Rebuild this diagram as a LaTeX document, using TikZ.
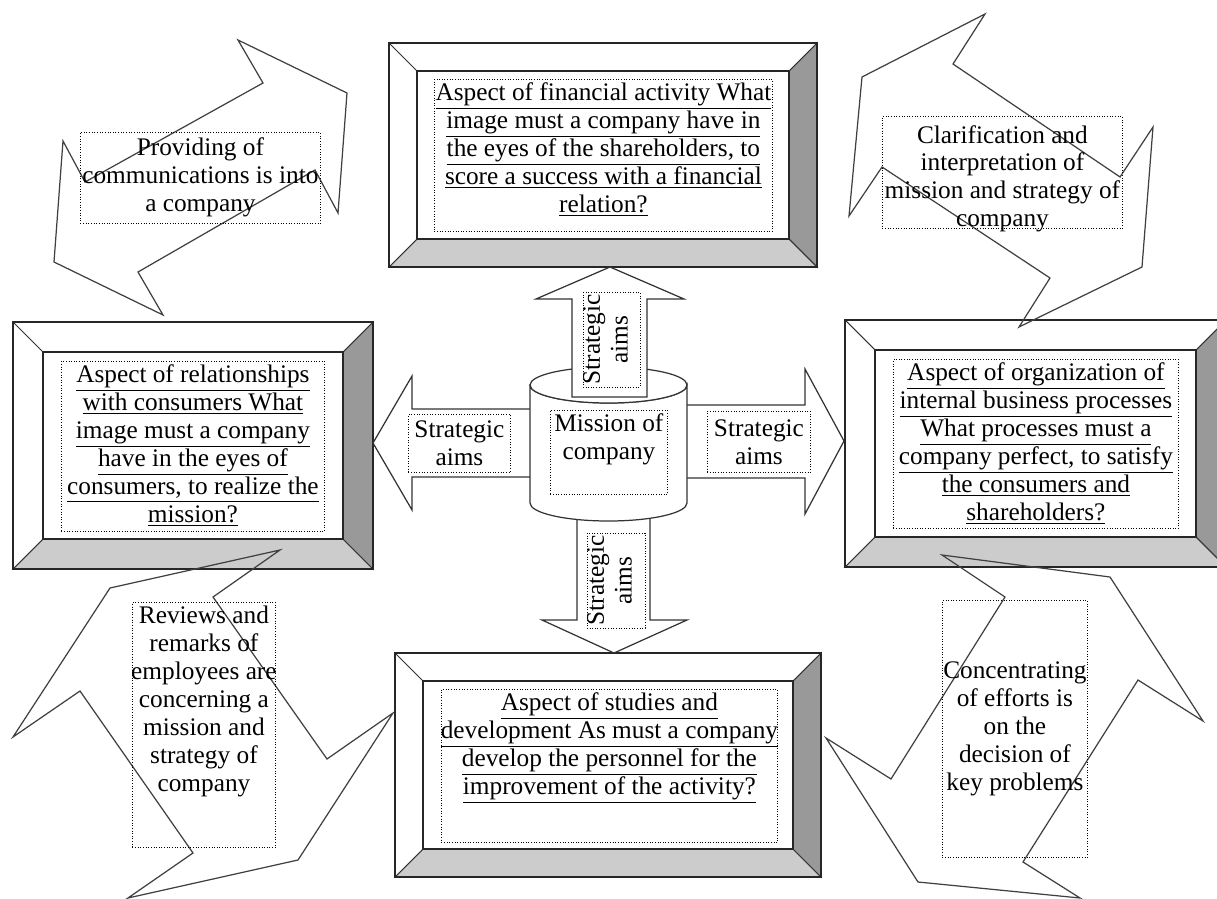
\documentclass[tikz,border=0pt]{standalone}
\usepackage{fontspec}
\setmainfont{Liberation Serif}
\usepackage{xcolor}
\usepackage{tikz}
\usetikzlibrary{positioning}

\newcommand{\ulline}[1]{\makebox[\linewidth]{\underline{#1}}}
\newcommand{\plline}[1]{\makebox[\linewidth]{#1}}
\newcommand{\boxtext}[4]{\parbox[c][#2][#3]{#1}{#4}}
\newcommand{\bevelframe}[5]{%
  \filldraw[frameline, fill=white] (#1,#2) rectangle (#3,#4);
  \filldraw[thinline, fill=black!20] (#1,#4) -- (#3,#4) -- (#3-#5,#4-#5) -- (#1+#5,#4-#5) -- cycle;
  \filldraw[thinline, fill=black!40] (#3,#2) -- (#3,#4) -- (#3-#5,#4-#5) -- (#3-#5,#2+#5) -- cycle;
  \draw[thinline] (#1,#2) -- (#1+#5,#2+#5);
  \draw[frameline] (#1+#5,#2+#5) rectangle (#3-#5,#4-#5);
  \draw[frameline] (#1,#2) rectangle (#3,#4);}

\begin{document}
\begin{tikzpicture}[x=0.02cm, y=-0.02cm,
    frameline/.style={draw=black!85, line width=1pt},
    thinline/.style={draw=black!80, line width=0.6pt},
    blockarrow/.style={draw=black!80, fill=white, line width=0.7pt},
    zigzag/.style={draw=black!75, line width=0.7pt},
    tbox/.style={draw, densely dotted, line width=0.5pt, inner sep=0pt, font=\fontsize{14.4}{15.9}\selectfont}
]
\useasboundingbox (0,0) rectangle (1217,899);

\bevelframe{389}{43}{817}{267}{28}
\bevelframe{13}{322}{373}{569}{30}
\bevelframe{845}{320}{1226}{567}{30}
\bevelframe{395}{653}{821}{877}{28}

\filldraw[blockarrow] (540,409) -- (412,409) -- (412,376) -- (373,443) -- (412,510) -- (412,477) -- (540,477) -- cycle;
\filldraw[blockarrow] (680,405) -- (805,405) -- (805,369) -- (844,441) -- (805,514) -- (805,478) -- (680,478) -- cycle;
\filldraw[blockarrow] (577,505) -- (577,620) -- (542,620) -- (614,653) -- (687,620) -- (650,620) -- (650,505) -- cycle;
\filldraw[blockarrow] (530,385) -- (530,503) arc[start angle=180, end angle=0, x radius=78.5, y radius=18] -- (687,385) arc[start angle=0, end angle=180, x radius=78.5, y radius=18] -- cycle;
\draw[blockarrow] (608.5,385) ellipse [x radius=78.5, y radius=18];
\filldraw[blockarrow] (572,397) -- (572,299) -- (536,299) -- (610,267) -- (684,299) -- (647,299) -- (647,397) -- cycle;

\draw[zigzag] (238,40) -- (347,93) -- (338,213) -- (315,170) -- (138,272) -- (163,315) -- (54,262) -- (63,141) -- (85,182) -- (263,83) -- cycle;
\draw[zigzag] (862,77) -- (985,14) -- (953,64) -- (1120,177) -- (1153,127) -- (1142,267) -- (1019,327) -- (1050,278) -- (882,167) -- (849,216) -- cycle;
\draw[zigzag] (280,550) -- (110,588) -- (13,737) -- (80,691) -- (193,853) -- (128,898) -- (298,860) -- (393,713) -- (327,759) -- (213,597) -- cycle;
\draw[zigzag] (942,555) -- (1110,577) -- (1203,721) -- (1138,680) -- (1023,862) -- (1080,898) -- (918,882) -- (826,738) -- (891,779) -- (1005,597) -- cycle;

\node[tbox, anchor=north west] (fin) at (434,79) {\boxtext{6.76cm}{3.04cm}{t}{\vspace{2pt}%
  \ulline{Aspect of financial activity What}\\
  \ulline{image must a company have in}\\
  \ulline{the eyes of the shareholders, to}\\
  \ulline{score a success with a financial}\\
  \ulline{relation?}}};
\node[tbox, anchor=north west] (cons) at (61,361) {\boxtext{5.26cm}{3.40cm}{t}{\vspace{2pt}%
  \ulline{Aspect of relationships}\\
  \ulline{with consumers What}\\
  \ulline{image must a company}\\
  \ulline{have in the eyes of}\\
  \ulline{consumers, to realize the}\\
  \ulline{mission?}}};
\node[tbox, anchor=north west] (proc) at (893,359) {\boxtext{5.70cm}{3.38cm}{t}{\vspace{2pt}%
  \ulline{Aspect of organization of}\\
  \ulline{internal business processes}\\
  \ulline{What processes must a}\\
  \ulline{company perfect, to satisfy}\\
  \ulline{the consumers and}\\
  \ulline{shareholders?}}};
\node[tbox, anchor=north west] (dev) at (441,689) {\boxtext{6.72cm}{3.06cm}{t}{\vspace{2pt}%
  \ulline{Aspect of studies and}\\
  \ulline{development As must a company}\\
  \ulline{develop the personnel for the}\\
  \ulline{improvement of the activity?}}};

\node[tbox, anchor=north west] (comm) at (80,132) {\boxtext{4.80cm}{1.82cm}{t}{\vspace{3pt}%
  \plline{Providing of}\\
  \plline{communications is into}\\
  \plline{a company}}};
\node[tbox, anchor=north west] (clar) at (882,116) {\boxtext{4.80cm}{2.24cm}{t}{\vspace{5pt}%
  \plline{Clarification and}\\
  \plline{interpretation of}\\
  \plline{mission and strategy of}\\
  \plline{company}}};
\node[tbox, anchor=north west] (rev) at (132,602) {\boxtext{2.86cm}{4.90cm}{t}{\vspace{2pt}%
  \plline{Reviews and}\\
  \plline{remarks of}\\
  \plline{employees are}\\
  \plline{concerning a}\\
  \plline{mission and}\\
  \plline{strategy of}\\
  \plline{company}}};
\node[tbox, anchor=north west] (conc) at (942,600) {\boxtext{2.90cm}{5.14cm}{c}{%
  \plline{Concentrating}\\
  \plline{of efforts is}\\
  \plline{on the}\\
  \plline{decision of}\\
  \plline{key problems}}};

\node[tbox, anchor=north west] (mission) at (550,410) {\boxtext{2.34cm}{1.68cm}{t}{\vspace{2pt}%
  \plline{Mission of}\\
  \plline{company}}};
\node[tbox, anchor=north west] (aimL) at (408,414) {\boxtext{2.04cm}{1.16cm}{c}{%
  \plline{Strategic}\\
  \plline{aims}}};
\node[tbox, anchor=north west] (aimR) at (707,411) {\boxtext{2.06cm}{1.22cm}{c}{%
  \plline{Strategic}\\
  \plline{aims}}};
\node[tbox, rotate=90] (aimU) at (611.5,339.5) {\boxtext{1.90cm}{1.14cm}{t}{%
  \plline{Strategic}\\
  \plline{aims}}};
\node[tbox, rotate=90] (aimD) at (616,580.5) {\boxtext{1.90cm}{1.16cm}{t}{%
  \plline{Strategic}\\
  \plline{aims}}};
\end{tikzpicture}
\end{document}
